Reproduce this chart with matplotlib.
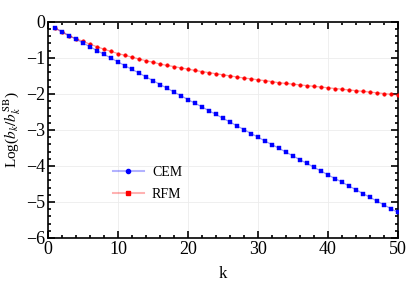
import numpy as np
import matplotlib
matplotlib.use('Agg')
import matplotlib.pyplot as plt
from matplotlib.lines import Line2D
from matplotlib.ticker import MultipleLocator

plt.rc('font', family=['Liberation Serif', 'DejaVu Serif'], size=12)
plt.rc('mathtext', fontset='stix')

# Datos
k = list(range(1, 51))
cem = [-0.17, -0.27, -0.38, -0.48, -0.59, -0.69, -0.80, -0.90, -1.01, -1.11,
       -1.22, -1.32, -1.42, -1.53, -1.63, -1.74, -1.84, -1.95, -2.05, -2.16,
       -2.26, -2.36, -2.47, -2.57, -2.68, -2.78, -2.89, -2.99, -3.10, -3.20,
       -3.31, -3.41, -3.51, -3.62, -3.72, -3.83, -3.93, -4.04, -4.14, -4.25,
       -4.35, -4.45, -4.56, -4.66, -4.77, -4.87, -4.98, -5.08, -5.19, -5.29]
rfm = [-0.17, -0.29, -0.39, -0.47, -0.54, -0.62, -0.69, -0.76, -0.82, -0.88,
       -0.93, -0.98, -1.03, -1.08, -1.12, -1.17, -1.21, -1.24, -1.28, -1.31,
       -1.35, -1.38, -1.41, -1.44, -1.47, -1.50, -1.53, -1.56, -1.58, -1.61,
       -1.63, -1.66, -1.69, -1.71, -1.73, -1.75, -1.77, -1.79, -1.81, -1.83,
       -1.85, -1.87, -1.89, -1.91, -1.93, -1.95, -1.97, -1.99, -2.01, -2.03]

fig = plt.figure(figsize=(4.07, 2.84), dpi=100)
ax = fig.add_axes([0.118, 0.162, 0.860, 0.761])

ax.plot(k, rfm, color=(1, 0, 0, 0.4), lw=0.9, zorder=2)
ax.plot(k, rfm, ls='none', marker='o', ms=2.6, mew=0.3, color='red', mec='red', zorder=3)
ax.plot(k, cem, color=(0, 0, 1, 0.4), lw=0.9, zorder=2)
ax.plot(k, cem, ls='none', marker='s', ms=2.2, mew=0.3, color='blue', mec='blue', zorder=3)

ax.set_xlim(0, 50)
ax.set_ylim(-6, 0)
ax.xaxis.set_major_locator(MultipleLocator(10))
ax.xaxis.set_minor_locator(MultipleLocator(2))
ax.yaxis.set_major_locator(MultipleLocator(1))
ax.yaxis.set_minor_locator(MultipleLocator(0.2))
ax.tick_params(which='both', direction='in', top=True, right=True, width=1.2)
ax.tick_params(which='major', length=5, labelsize=13, pad=2)
ax.tick_params(which='minor', length=2.5)
for s in ax.spines.values():
    s.set_linewidth(1.2)
ax.grid(True, which='major', color='#ececec', lw=0.6, zorder=0)
ax.set_axisbelow(True)

ax.set_xlabel('k', fontsize=12, labelpad=6)
ax.set_ylabel(r'Log($b_k/b_k^{\rm SB}$)', fontsize=11)
ax.yaxis.set_label_coords(-0.072, 0.5)

h_cem = Line2D([], [], color=(0, 0, 1, 0.3), lw=1.5, marker='o', ms=3,
               mfc='blue', mec='blue')
h_rfm = Line2D([], [], color=(1, 0, 0, 0.3), lw=1.5, marker='s', ms=3,
               mfc='red', mec='red')
ax.legend([h_cem, h_rfm], ['CEM', 'RFM'], loc='upper left',
          bbox_to_anchor=(0.15, 0.39), frameon=False, fontsize=10,
          handlelength=2.2, labelspacing=0.6, handletextpad=0.6)

fig.savefig('out.png', dpi=100)
